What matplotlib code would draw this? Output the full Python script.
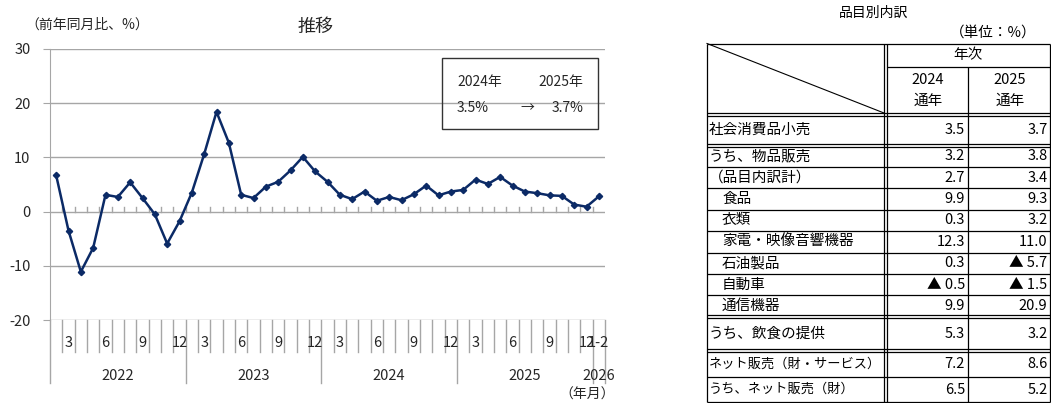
import numpy as np
import matplotlib
matplotlib.use('Agg')
import matplotlib.pyplot as plt

plt.rcParams['font.family'] = ['Noto Sans CJK JP', 'DejaVu Sans']
plt.rcParams['axes.unicode_minus'] = False

# monthly retail sales, YoY % (Jan and Feb reported together)
years = ['2022', '2023', '2024', '2025', '2026']
months_per_year = [11, 11, 11, 11, 1]
month_names = ['1-2', '3', '4', '5', '6', '7', '8', '9', '10', '11', '12']
shown_months = ['3', '6', '9', '12']
retail_yoy = [6.7, -3.5, -11.1, -6.7, 3.1, 2.7, 5.4, 2.5, -0.5, -5.9, -1.8,
              3.5, 10.6, 18.4, 12.7, 3.1, 2.5, 4.6, 5.5, 7.6, 10.1, 7.4,
              5.5, 3.1, 2.3, 3.7, 2.0, 2.7, 2.1, 3.2, 4.8, 3.0, 3.7,
              4.0, 5.9, 5.1, 6.4, 4.8, 3.7, 3.4, 3.0, 2.9, 1.3, 0.9,
              2.8]

# annual summary box
box_years = ['2024年', '2025年']
box_values = [3.5, 3.7]

# breakdown table
table_items = ['社会消費品小売', 'うち、物品販売', '（品目内訳計）', '食品', '衣類',
               '家電・映像音響機器', '石油製品', '自動車', '通信機器',
               'うち、飲食の提供', 'ネット販売（財・サービス）', 'うち、ネット販売（財）']
item_indent = [0, 0, 0, 1, 1, 1, 1, 1, 1, 0, 0, 0]
table_2024 = [3.5, 3.2, 2.7, 9.9, 0.3, 12.3, 0.3, -0.5, 9.9, 5.3, 7.2, 6.5]
table_2025 = [3.7, 3.8, 3.4, 9.3, 3.2, 11.0, -5.7, -1.5, 20.9, 3.2, 8.6, 5.2]

W, H = 1051, 403
fig = plt.figure(figsize=(W / 100, H / 100), dpi=100)

grid_col = '#A6A6A6'
line_col = '#0B2A66'
txt_col = '#262626'

# ---- line chart ----
ax = fig.add_axes([50 / W, (H - 320) / H, 555 / W, 271 / H])
n = len(retail_yoy)
labels = []
for y, m in zip(years, months_per_year):
    labels += month_names[:m]

ax.set_xlim(0, n)
ax.set_ylim(-20, 30)
ax.set_yticks(range(-20, 31, 10))
ax.yaxis.grid(True, color=grid_col, lw=1)
ax.set_axisbelow(True)
ax.set_xticks([])
for s in ['top', 'right', 'bottom']:
    ax.spines[s].set_visible(False)
ax.spines['left'].set_color(grid_col)
ax.tick_params(axis='y', length=5, color=grid_col, labelsize=10.5,
               labelcolor=txt_col, pad=9)

x = np.arange(n) + 0.5
ax.plot(x, retail_yoy, color=line_col, lw=1.8, marker='D', ms=3.2, zorder=3)

# small ticks sitting on the zero line
tick_h = 50 / 271 * 5
for b in range(1, n):
    ax.plot([b, b], [0, tick_h], color=grid_col, lw=1, zorder=1)

# category separators under the plot
xt = ax.get_xaxis_transform()
year_edges = np.concatenate([[0], np.cumsum(months_per_year)])
for b in range(0, n + 1):
    bottom = -63 / 271 if b in year_edges else -32 / 271
    ax.plot([b, b], [0, bottom], transform=xt, color=grid_col, lw=1,
            clip_on=False)

for i, lab in enumerate(labels):
    if lab in shown_months or i == n - 1:
        ax.text(i + 0.5, -23 / 271, lab, transform=xt, ha='center',
                va='center', fontsize=10.5, color=txt_col)

for k, y in enumerate(years):
    mid = (year_edges[k] + year_edges[k + 1]) / 2
    ax.text(mid, -56 / 271, y, transform=xt, ha='center', va='center',
            fontsize=10.5, color=txt_col)

# ---- overlay in pixel coordinates ----
ov = fig.add_axes([0, 0, 1, 1])
ov.set_xlim(0, W)
ov.set_ylim(H, 0)
ov.axis('off')

ov.text(25, 25, '（前年同月比、%）', ha='left', va='center', fontsize=10,
        color=txt_col)
ov.text(316, 27, '推移', ha='center', va='center', fontsize=13, color=txt_col)
ov.text(587, 395, '（年月）', ha='center', va='center', fontsize=10,
        color=txt_col)

# summary box
ov.add_patch(plt.Rectangle((442, 58), 156, 71, fill=False, ec='#333333',
                           lw=1))
ov.text(457, 82, box_years[0], ha='left', va='center', fontsize=10,
        color=txt_col)
ov.text(583, 82, box_years[1], ha='right', va='center', fontsize=10,
        color=txt_col)
ov.text(457, 108, f'{box_values[0]:.1f}%', ha='left', va='center',
        fontsize=10, color=txt_col)
ov.text(527, 108, '→', ha='center', va='center', fontsize=10, color=txt_col)
ov.text(583, 108, f'{box_values[1]:.1f}%', ha='right', va='center',
        fontsize=10, color=txt_col)

# ---- breakdown table ----
L, C1, C2, R = 707, 885.5, 968, 1049.5
top, y_nenji, head_bot = 43.5, 67, 114.5
row_h_group = 21.4
edges = [head_bot, 145.5]
for k in range(8):
    edges.append(edges[-1] + row_h_group)
edges += [350.5, 377, 402]
double_at = {head_bot, 145.5, edges[9], 350.5}

def hline(y, x0=L, x1=R):
    ov.plot([x0, x1], [y, y], color='black', lw=0.9, solid_capstyle='butt')

def vline(xp, y0=top, y1=edges[-1]):
    ov.plot([xp, xp], [y0, y1], color='black', lw=0.9, solid_capstyle='butt')

hline(top)
hline(y_nenji, C1 + 1.5, R)
for e in edges:
    if e in double_at:
        hline(e - 1.5)
        hline(e + 1.5)
    else:
        hline(e)
vline(L)
vline(C1 - 1.5)
vline(C1 + 1.5)
vline(C2, y_nenji, edges[-1])
vline(R)
ov.plot([L, C1 - 1.5], [top, head_bot - 1.5], color='black', lw=0.8)

fs = 10.5
ov.text(874, 13, '品目別内訳', ha='center', va='center', fontsize=10)
ov.text(1036, 33, '（単位：%）', ha='right', va='center', fontsize=10.5)
ov.text((C1 + R) / 2, 55, '年次', ha='center', va='center', fontsize=fs)
for cx, yr in [((C1 + C2) / 2, '2024'), ((C2 + R) / 2, '2025')]:
    ov.text(cx + 1, 80, yr, ha='center', va='center', fontsize=fs)
    ov.text(cx + 1, 101, '通年', ha='center', va='center', fontsize=fs)

def fmt(v):
    return f'▲ {abs(v):.1f}' if v < 0 else f'{v:.1f}'

for i, item in enumerate(table_items):
    yc = (edges[i] + edges[i + 1]) / 2
    if i == 0:
        yc = (head_bot + 145.5) / 2
    size = 9.5 if len(item) > 10 else 10.5
    ov.text(L + 2 + 13 * item_indent[i], yc, item, ha='left', va='center',
            fontsize=size)
    ov.text(C2 - 3, yc, fmt(table_2024[i]), ha='right', va='center',
            fontsize=fs)
    ov.text(R - 2, yc, fmt(table_2025[i]), ha='right', va='center',
            fontsize=fs)

fig.savefig('out.png', dpi=100)
